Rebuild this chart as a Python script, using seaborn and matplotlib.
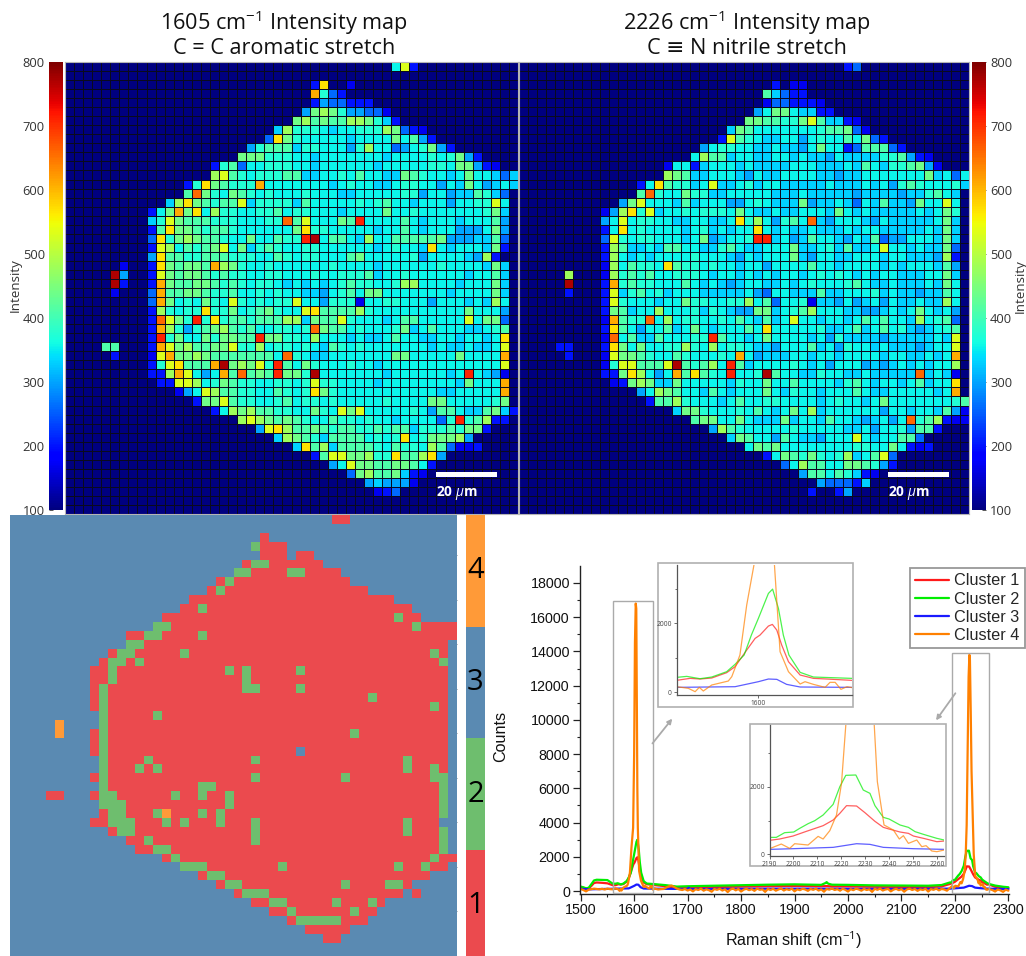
import numpy as np
import matplotlib
matplotlib.use("Agg")
import matplotlib.pyplot as plt
from matplotlib.colors import ListedColormap
from matplotlib.patches import Rectangle, FancyArrowPatch
from matplotlib.lines import Line2D
import seaborn as sns

# ---------- intensity levels used to read the two maps ----------
LEVEL_CODES = list("bcdefghijkmnopqr")
LEVEL_VALUES = [170, 200, 260, 300, 330, 355, 375, 410, 440, 480, 530, 570, 610, 660, 710, 770]
BACKGROUND = 100

MAP_1605 = [
"36:gmc","","27:cn 31:b","27:ohdc","27:ceddccc","26:ejkjhee 33:ddb","25:jkijii 31:kkjhfc",
"23:fkhhhgf 30:gghhhkj 37:dcb","22:dnjh 26:gggg 30:gfgggg 36:jgiec","20:ehiiifhhgg 30:gehkggdegh 40:jec",
"19:j 20:jjhhhggfgg 30:gggggfgggg 40:hghjec","16:chid 20:gghhhggfgg 30:ggggfggggg 40:hhgjjecb",
"16:kmih 20:ghhhiiffgg 30:hgiggffjih 40:ggfgjggfdf","13:chnjihh 20:hogggggggf 30:ghggffghhg 40:gegfjgefgf",
"13:ipjhgji 20:hghggghggg 30:ffggggghhe 40:ggeffihfd","11:fknjihiim 20:fhhhhfiggg 30:gghghiggfg 40:ggegghhmg",
"9:cgjojngkhhg 20:ghhighhggg 30:fggggjgghg 40:gggggghjf","9:fhmjiiihhhg 20:gghhpimggg 30:jiqggggigf 40:gggfgggie",
"9:cinjjihiihg 20:gggggjnhhg 30:ggggfggigf 40:gggeeegje","9:dnhjkjiihgg 20:jggihhqrgi 30:igfkggiiii 40:ijeeeffid",
"9:cmkgihijmgj 20:fhihgghhgg 30:ggggfghggf 40:ngfgggfjc","9:eniihhiiihh 20:hggihghhgg 30:gijggggghe 40:ggggfekc",
"6:b 9:cnjijjiokjh 20:gghggggggh 30:ggggfggggg 40:ghggggfjf","5:re 9:cmjijjihihh 20:gghhggghgg 30:hhhifgghgg 40:ggggfggif",
"5:rc 9:cojiijjihih 20:ghhgfgfgfg 30:hihhgghkkg 40:gggfgggjf","5:b 9:doiijjihhig 20:ghghggffeg 30:higjjggggg 40:ggfggggjf",
"9:dojghgjhgmh 20:ghghhmggeh 30:hhbgghhggg 40:egggfgfkg","9:ckhghhnhhjg 20:hijhggmnii 30:iikhgggggg 40:ggggjggge",
"9:cpmjhqhnhii 20:hiiikkfjii 30:mhgggfgiig 40:ggggmgjjd","9:cokhehijkih 20:igghhghpji 30:ighggghjfg 40:igggffghi",
"9:cqhjggjhjji 20:iqjjhhgkgg 30:gfgffgiggf 40:fggfggfgn","4:ii 9:comjkiijjmh 20:hkghhghgfi 30:hghggggggg 40:fgffgffgm",
"5:c 9:bmojjkjiiii 20:iiigphgffg 30:ggggggjjgg 40:gggjggggo","9:chmniiiorjk 20:jmhqigjhgg 30:ghggfggggg 40:ggggggggm",
"9:cckomgegoip 20:ijiqjjhrgg 30:gggggfgggg 40:ggfgqgfeb","10:ccmmkghjih 20:hgghhghmhh 30:ggggfggggg 40:gggfjgggo",
"12:begmkiih 20:hggihghnjh 30:gggggggggg 40:gffgggggo","14:cjjmih 20:hgghighhgh 30:ggggghgggg 40:jjggggghj",
"16:cgkj 20:kiihhggjhg 30:mjmggggghg 40:eiigffijfc","19:k 20:mkjijihggi 30:hhghggfggg 40:gdhqhikcc",
"21:emnkiijih 30:iihhihiifh 40:hhihjjc","23:fkjihfi 30:iiighghngh 40:jjjke",
"25:fnikf 30:iiiihgihhg 40:kidbbc","27:cim 30:mjjkhhniik 40:ne",
"29:e 30:gmjjiijjig 40:c","31:djkiijfcb","33:efeeeb","34:bcd","","",
]

MAP_2226 = [
"36:cd","","28:c 30:bb","27:ifdcc","27:bddcccb","26:egjjgffcc","25:jjiihhjmiffcb",
"23:fjigggg 30:ggghiijdb","22:cmihgffg 30:geghggigjd 40:c","20:eghhggffgf 30:fegjggcdii 40:idc",
"19:g 20:kiifggffgg 30:fgffegffff 40:hhiecb","16:bggc 20:fgggfgffff 30:gggfffgfig 40:fhhijeb",
"16:kjif 20:fgggfegffg 30:gggffeffgg 40:gggggjfgdg","13:cgnihhf 20:gmffghfggf 30:ffffgfffgf 40:gehihggghf",
"13:iphggjh 20:hffgggggff 30:fgfffffeff 40:ffeffhigf","11:ejmgggfif 20:gggeeghgff 30:fjeffgfdgf 40:iffejggmg",
"9:beknhmfgghg 20:hhhgjgffgf 30:fgggfjgfgf 40:ffffgfgjh","9:egmghhggffg 20:gffgnhkgeh 30:igpfegggfe 40:gfffffgjf",
"9:cgnghggggfg 20:hfgfggngfg 30:ffgfffgfgg 40:fffffgfjf","9:dmhghhgggfg 20:jefgghqqfg 30:efiggfegfi 40:deegggfjf",
"9:ckiffgfiigg 20:ffhigffggg 30:jffghfiffg 40:mggfgffjd","9:ckgfgfggggh 20:gggfegfggg 30:jfeggffggg 40:fggfffekc",
"9:bkgihhgnihh 20:ghggfggegg 30:ggiggfgggg 40:fgfgggfie","5:k 9:bkhihigghhh 20:gfggfgfgfg 30:gfghghgfgf 40:ggfffggjf",
"5:r 9:cohihhgggig 20:fgfefggffg 30:fghggghigf 40:fgfffgfjg","5:c 9:cmfhighfggg 20:fffffgedgg 30:fffiffgggh 40:fgffeffig",
"9:cmhgggfggjh 20:hgghhkgidg 30:ghbffegefg 40:egffgffkg","9:cjifggkgggh 20:fhgfeejjfg 30:hikgggffee 40:fgfgjgfge",
"9:boihhpgkghh 20:gghgigfifg 30:mggfggfgig 40:iggfkghid","9:cnigeggifgj 20:gfgggigngg 30:ggghffgifg 40:ighfefghi",
"9:bpgiffigggh 20:hqiggfgjgg 30:ggfgehffff 40:efffffgfm","4:cc 9:cnjgjgghhkh 20:gkghhgffeg 30:ggifgehggf 40:gfffefggm",
"5:c 9:bmjjihggihg 20:gghgogefff 30:ggfggfgggg 40:fggffgfgo","9:bhmmiiimrih 20:ikgqifgggg 30:hgfgegggef 40:efgfgfggk",
"9:ccjnkgegoin 20:ihgqgghrig 30:gffhggffgf 40:ffffpfgfb","10:bcjkjffjgg 20:gggfhggjgg 30:iggggfhigf 40:ggfgifggn",
"13:egkjigg 20:figfgggjgf 30:hggfgggigf 40:fgggggfgo","14:ciikhg 20:ggfgigghhg 30:gggfghggfg 40:jggggggghi",
"17:fjj 20:hggghgigfg 30:jgkfgggggg 40:eggfggfieb","19:i 20:jjggjgfffj 30:fggfiggfef 40:gegphikcbb",
"21:ekihggggg 30:hgggggffge 40:ggheiic","23:fjiggei 30:gffegggmgf 40:ggiid",
"25:gjijg 30:ggggggghhg 40:gjgcbc","27:cgj 30:ihjhghkfgi 40:md",
"29:d 30:gkiiggjjih 40:ec","31:eiigihfcb","33:edddcf","32:c 35:ce","","",
]

# ---------- cluster map: painted in order, 3 (substrate) is the background ----------
CLUSTER_ROWS = [
"36-37:1","","28:1","27:2 28-30:1","28-30:1 32-33:1","26:1 27-28:2 29-34:1","25-26:2 27-36:1 31-32:2",
"23:1 24:2 25-37:1","22:1 23:2 24-39:1","20-42:1","19-44:1 21:2","17-45:1 43:2",
"16-17:2 18-49:1 45:2","13-14:1 15-16:2 17-49:1 21:2","13-14:2 15-48:1","11:1 12-13:2 14-48:1 19:2 47:2",
"10:1 11-12:2 13:1 14:2 15-47:1 48:2","9-10:1 11:2 12-48:1 24:2 26:2 32:2","9-10:1 11:2 12-48:1 26:2",
"9:1 10:2 11-48:1 26-27:2 32:2","9:1 10:2 11-48:1 40:2","9:1 10:2 11-48:1 47:2","10:2 11-48:1 16:2",
"5:4 10:2 11-48:1","5:4 9:1 10:2 11-48:1 38:2","9:1 10:2 11-48:1","9:1 10:2 11-48:1 32:3",
"10:2 11-48:1 15:2 27:2 44:2","10:2 11-48:1 14:2 16:2 44:2 47:2","9:1 10:2 11-47:1 27:2 37:2 47-48:2",
"10:2 11-47:1 21-22:2 48:2","4-5:1 9:1 10-11:2 12-47:1 18:2 21:2 24:2 48:2","10-12:2 13-47:1 24:2 48:2",
"10:1 11-12:2 13-47:1 16:2 17:4 21:2 23:2 48:2","9-10:1 11-13:2 14-47:1 17:2 19:2 23:2 27:2 44:2",
"11:1 12-13:2 14-47:1 27:2 44:2 48:2","13-14:1 15:2 16-47:1 27:2 48:2","14-15:1 16-17:2 18-47:1 48:2",
"17:1 18:2 19-46:1 47:2 48-49:1","19-21:2 22-48:1 30:2 43:2 46:2","21:1 22-23:2 24-46:1",
"23:1 24-25:2 26-44:1 37:2 42-43:2","25:1 26-28:2 29-43:1 45:1","27-28:1 29-30:2 31-41:1 36:2 40:2",
"29-30:1 31:2 32-40:1 38:2","31:1 32-36:2 37-39:1","33-37:1","35-36:1","","",
]
CLUSTER_COLORS = ["#EB4A4E", "#6EBE6E", "#5A8AB2", "#FF9A38"]
CLUSTER_BAR = [[4], [3], [2], [1]]

# ---------- spectra ----------
RED_X = [1500,1505,1510,1515,1520,1525,1530,1540,1550,1560,
         1565,1570.7,1575,1580,1586.4,1590,1595,1598.6,1600.7,1604.3,1606,1607.9,1610,1612.9,1617.9,1623.6,1629.3,1640,
         1660,1680,1700,1750,1800,1850,1900,1950,1960,1970,2000,2050,2100,2150,2175,
         2190,2194.2,2199.8,2205.4,2212.4,2216.6,2219.4,2222.2,2226.4,2229.9,2234.1,2237.6,2240,2244.6,2248.1,2250.2,2254.4,2260,2263.1,
         2275,2290,2300]
RED_Y = [220,190,120,150,300,470,500,480,450,340,
         340,398,379,408,563,738,1223,1563,1660,1923,1971,1806,1369,884,495,398,379,340,
         280,190,210,230,260,280,300,280,290,270,270,250,240,230,270,
         408,448,537,677,846,1015,1214,1443,1433,1234,975,796,746,657,617,537,468,368,388,
         250,190,170]
GREEN_X = [1500,1505,1510,1515,1520,1525,1530,1540,1550,1560,
           1565,1569.3,1575,1580,1586.4,1590,1593.9,1597,1600,1604.3,1606.1,1608.6,1610.7,1613.1,1617.9,1623.6,1640,
           1660,1680,1700,1750,1800,1850,1900,1950,1958,1960,1963,1970,2000,2050,2100,2150,2175,
           2190,2192.8,2196.3,2200.1,2202.6,2206.1,2208.9,2212.4,2216.6,2219.4,2221.9,2226.1,2229.2,2232,2234.1,2237.6,2240,2244.6,2248.1,2250.9,2254.4,2260,2263.1,
           2275,2290,2300]
GREEN_Y = [260,220,160,190,400,620,660,650,640,430,
           427,456,388,437,592,806,1078,1660,2146,2874,3000,2437,1660,1078,573,437,398,
           340,260,280,310,340,370,390,360,470,520,430,370,360,330,320,310,350,
           497,497,637,657,766,905,995,1164,1482,2010,2348,2358,1910,1811,1443,1094,1045,866,796,667,587,468,418,
           320,250,220]
BLUE_X = [1500,1515,1565,1590,1600,1604.3,1607.9,1612.1,1617.9,1640,1700,1702,1705,1800,1900,2000,2100,
          2190,2199.8,2216.6,2226.4,2232,2237.6,2250.2,2263.1,2300]
BLUE_Y = [130,100,136,155,301,379,369,223,146,136,120,190,120,130,140,130,125,
          139,159,199,308,288,199,159,139,110]
ORANGE_X = ([1500,1505,1510,1515,1520,1525,1530,1535,1540,1545,1550,1555,1560,
             1565,1570,1572.9,1574.7,1576.4,1580,1587.1,1588.6,1592.1,1595,1598.1,1600,1601.5,1603,1604,
             1605,1606,1606.9,1609.3,1612.9,1617.9,1620,1623.6,1628.6,1630.7,1632.9,1635.4,1638]
            + list(range(1640, 2195, 5))
            + [2192.1,2194.9,2198.4,2200.5,2206.1,2210.3,2212.4,2215.2,2218,2220.1,2221.9,2224,2225.5,2227,2228,
               2229.5,2231,2233.8,2235.1,2237.9,2241.8,2244.3,2246,2248.1,2251.6,2253.7,2255.5,2257.9,2260,2263.1,
               2270,2275,2280,2285,2290,2295,2300])
ORANGE_Y = [120,60,-20,80,110,140,120,100,130,90,140,110,100,
            155,107,10,136,29,204,320,447,1078,2534,3700,8000,14500,16800,16500,
            11000,6000,3700,1175,592,233,301,223,136,282,282,78,155,
            130,90,110,120,200,280,320,230,140,90,
            60,120,30,90,-20,110,60,140,20,100,
            50,-40,120,70,130,30,100,-60,90,140,
            40,120,-30,80,130,50,110,10,140,70,
            100,-50,120,60,130,20,90,150,30,110,
            60,140,-20,100,50,130,90,10,120,70,
            140,30,100,-40,120,80,150,60,110,20,
            130,70,-30,110,50,140,90,20,120,60,
            100,-50,130,70,140,30,90,120,-20,80,
            130,50,110,-40,90,140,60,120,10,100,
            60,130,-30,110,70,140,40,120,90,20,
            160,
            219,298,169,308,269,527,448,697,1164,2110,3850,9000,12500,13800,13500,
            10500,7000,3850,2159,866,716,448,547,318,418,219,249,90,70,119,
            60,-30,90,40,-50,80,20]
SERIES = [("Cluster 1", RED_X, RED_Y, "#ff1a1a"), ("Cluster 2", GREEN_X, GREEN_Y, "#00ee00"),
          ("Cluster 3", BLUE_X, BLUE_Y, "#1a1aff"), ("Cluster 4", ORANGE_X, ORANGE_Y, "#ff8000")]
COLORBAR_TICKS = [100, 200, 300, 400, 500, 600, 700, 800]

sns.set_theme(style="white")
plt.rcParams["font.family"] = ["Open Sans", "DejaVu Sans"]
plt.rcParams["mathtext.fontset"] = "custom"
plt.rcParams["mathtext.rm"] = "Open Sans"
plt.rcParams["mathtext.it"] = "Open Sans:italic"
plt.rcParams["mathtext.bf"] = "Open Sans:bold"
plt.rcParams["mathtext.default"] = "rm"

W, H = 1026, 956
fig = plt.figure(figsize=(W / 100, H / 100), dpi=100, facecolor="white")


def px_axes(x0, y0, x1, y1, **kw):
    return fig.add_axes([x0 / W, 1 - y1 / H, (x1 - x0) / W, (y1 - y0) / H], **kw)


level = dict(zip(LEVEL_CODES, LEVEL_VALUES))


def decode_map(rows):
    grid = np.full((50, 50), float(BACKGROUND))
    for r, row in enumerate(rows):
        for tok in row.split():
            start, chars = tok.split(":")
            for k, ch in enumerate(chars):
                c = int(start) + k
                if c < 50:
                    grid[r, c] = level[ch]
    return grid


def decode_clusters(rows):
    grid = np.full((50, 50), 3)
    for r, row in enumerate(rows):
        for tok in row.split():
            span, val = tok.split(":")
            a, _, b = span.partition("-")
            grid[r, int(a):int(b or a) + 1] = int(val)
    return grid


def draw_map(ax, cax, rows, side):
    sns.heatmap(decode_map(rows), cmap="jet", vmin=100, vmax=800, linewidths=0.4, linecolor="#0a0a1e",
                cbar=True, cbar_ax=cax, xticklabels=False, yticklabels=False, ax=ax)
    ax.set_xticks([]); ax.set_yticks([])
    for s in ax.spines.values():
        s.set_visible(True); s.set_color("#b5b5b5"); s.set_linewidth(0.8)
    cax.set_yticks(COLORBAR_TICKS)
    cax.yaxis.set_ticks_position(side)
    cax.yaxis.set_label_position(side)
    cax.tick_params(axis="y", direction="in", length=3, width=0.7, color="#555555", labelsize=9.3,
                    labelcolor="#333333", pad=3)
    for s in cax.spines.values():
        s.set_visible(False)


# ---- intensity maps ----
ax1 = px_axes(65, 62, 518, 514)
cax1 = px_axes(49, 62, 63, 510)
draw_map(ax1, cax1, MAP_1605, "left")
ax2 = px_axes(519, 62, 969, 514)
cax2 = px_axes(972, 62, 986, 510)
draw_map(ax2, cax2, MAP_2226, "right")
fig.text(15 / W, 1 - 285 / H, "Intensity", rotation=90, ha="center", va="center", fontsize=9.6, color="#333333")
fig.text(1020 / W, 1 - 286 / H, "Intensity", rotation=90, ha="center", va="center", fontsize=9.6, color="#333333")

for cx, l1, l2 in [(284, "1605 cm$^{-1}$ Intensity map", "C = C aromatic stretch"),
                   (747, "2226 cm$^{-1}$ Intensity map", "C \u2261 N nitrile stretch")]:
    fig.text(cx / W, 1 - 23 / H, l1, ha="center", va="center", fontsize=15.6, color="#111111")
    fig.text(cx / W, 1 - 49 / H, l2, ha="center", va="center", fontsize=15.6, color="#111111")

for ax, x0 in [(ax1, 436), (ax2, 888)]:
    fig.add_artist(Rectangle((x0 / W, 1 - 477 / H), 61 / W, 5 / H, transform=fig.transFigure,
                             facecolor="white", edgecolor="none", zorder=5))
    fig.text((x0 + 21) / W, 1 - 493 / H, "20 $\\mathit{\\mu}$m", color="white", ha="center", va="center",
             fontsize=9.8, fontweight="bold", zorder=5)

# ---- cluster map ----
ax3 = px_axes(10, 515, 457, 956)
sns.heatmap(decode_clusters(CLUSTER_ROWS), cmap=ListedColormap(CLUSTER_COLORS), vmin=0.5, vmax=4.5,
            cbar=False, xticklabels=False, yticklabels=False, ax=ax3)
ax3.set_ylim(49.44, 0)
ax3.set_xticks(np.arange(4.5, 50, 5)); ax3.set_yticks(np.arange(4.5, 50, 5))
ax3.set_xticklabels([]); ax3.set_yticklabels([])
ax3.tick_params(axis="both", direction="in", length=3, width=0.6, color="#777777",
                top=True, right=True, bottom=False, left=True)

ax4 = px_axes(466, 515, 485, 956)
sns.heatmap(CLUSTER_BAR, cmap=ListedColormap(CLUSTER_COLORS), vmin=0.5, vmax=4.5, cbar=False,
            annot=True, fmt="d", annot_kws={"color": "black", "fontsize": 21},
            xticklabels=False, yticklabels=False, ax=ax4)
ax4.set_ylim(3.948, 0)

# ---- spectra ----
ax5 = px_axes(579.6, 566, 1009.5, 893.6, zorder=1)
for name, xs, ys, col in SERIES:
    sns.lineplot(x=xs, y=ys, color=col, lw=1.6, ax=ax5, estimator=None, errorbar=None, sort=False, legend=False)
ax5.set_xlim(1498, 2302); ax5.set_ylim(-150, 18990)
ax5.set_xticks(np.arange(1500, 2301, 100)); ax5.set_xticks(np.arange(1550, 2300, 100), minor=True)
ax5.set_yticks(np.arange(0, 18001, 2000)); ax5.set_yticks(np.arange(1000, 19000, 2000), minor=True)
sns.despine(ax=ax5)
for side in ("left", "bottom"):
    ax5.spines[side].set_color("#222222"); ax5.spines[side].set_linewidth(1.0)
ax5.tick_params(axis="both", which="major", direction="out", length=5, width=0.9, color="#222222",
                labelsize=10.3, labelcolor="#111111", pad=2, bottom=True, left=True)
ax5.tick_params(axis="both", which="minor", direction="out", length=2.5, width=0.8, color="#222222",
                bottom=True, left=True)
for t in ax5.get_xticklabels() + ax5.get_yticklabels():
    t.set_fontfamily("Liberation Sans")
fig.text(501 / W, 1 - 736 / H, "Counts", rotation=90, ha="center", va="center", fontsize=11.6,
         family="Liberation Sans", color="#111111")
fig.text(794 / W, 1 - 940 / H, "Raman shift (cm$^{-1}$)", ha="center", va="center", fontsize=11.6,
         family="Liberation Sans", color="#111111")

handles = [Line2D([], [], color=c, lw=1.6, label=n) for n, _, _, c in SERIES]
leg = ax5.legend(handles=handles, loc="upper right", bbox_to_anchor=(1025 / W, 1 - 568 / H),
                 bbox_transform=fig.transFigure, borderaxespad=0, fancybox=False, framealpha=1,
                 edgecolor="#999999", prop={"family": "Liberation Sans", "size": 11.7},
                 handlelength=2.1, labelspacing=0.2, handletextpad=0.3, borderpad=0.33)
leg.get_frame().set_linewidth(1.3)

for x0, y0, x1, y1 in [(613.4, 600.6, 653.4, 892.9), (951.9, 653, 988.5, 893)]:
    fig.add_artist(Rectangle((x0 / W, 1 - y1 / H), (x1 - x0) / W, (y1 - y0) / H, transform=fig.transFigure,
                             facecolor="none", edgecolor="#aaaaaa", lw=1, zorder=2))
for (xa, ya), (xb, yb) in [((650.7, 745.6), (674, 716.5)), ((957, 691), (934.4, 722.6))]:
    fig.add_artist(FancyArrowPatch((xa / W, 1 - ya / H), (xb / W, 1 - yb / H), transform=fig.transFigure,
                                   arrowstyle="-|>", mutation_scale=7, color="#aaaaaa", lw=1.3, zorder=2))


def inset(frame, box, xlim, ylim, xticks, yminor):
    x0, y0, x1, y1 = frame
    fig.add_artist(Rectangle((x0 / W, 1 - y1 / H), (x1 - x0) / W, (y1 - y0) / H, transform=fig.transFigure,
                             facecolor="white", edgecolor="#b0b0b0", lw=1.2, zorder=3))
    ax = px_axes(*box, zorder=4)
    ax.patch.set_alpha(0)
    for name, xs, ys, col in SERIES:
        sns.lineplot(x=xs, y=ys, color=col, lw=0.9, alpha=0.7, ax=ax, estimator=None, errorbar=None,
                     sort=False, legend=False)
    ax.set_xlim(*xlim); ax.set_ylim(*ylim)
    ax.set_xticks(xticks); ax.set_yticks([0, 2000]); ax.set_yticks(yminor, minor=True)
    sns.despine(ax=ax)
    for side in ("left", "bottom"):
        ax.spines[side].set_color("#555555"); ax.spines[side].set_linewidth(0.9)
    ax.tick_params(axis="both", which="major", direction="out", length=2, width=0.6, color="#555555",
                   labelsize=4.8, labelcolor="#444444", pad=1.5, bottom=True, left=True)
    ax.tick_params(axis="y", which="minor", direction="out", length=1.2, width=0.6, color="#555555", left=True)
    ax.set_xlabel(""); ax.set_ylabel("")
    return ax


inset((657.7, 563, 853, 707), (676.7, 565, 851.7, 695), (1565, 1640), (-87, 3703), [1600], [1000, 3000])
inset((750, 724, 946, 866), (769.6, 725, 944, 855.7), (2190, 2263), (-50, 3850),
      list(range(2190, 2261, 10)), [1000, 3000])

fig.savefig("out.png", dpi=100, facecolor="white")
